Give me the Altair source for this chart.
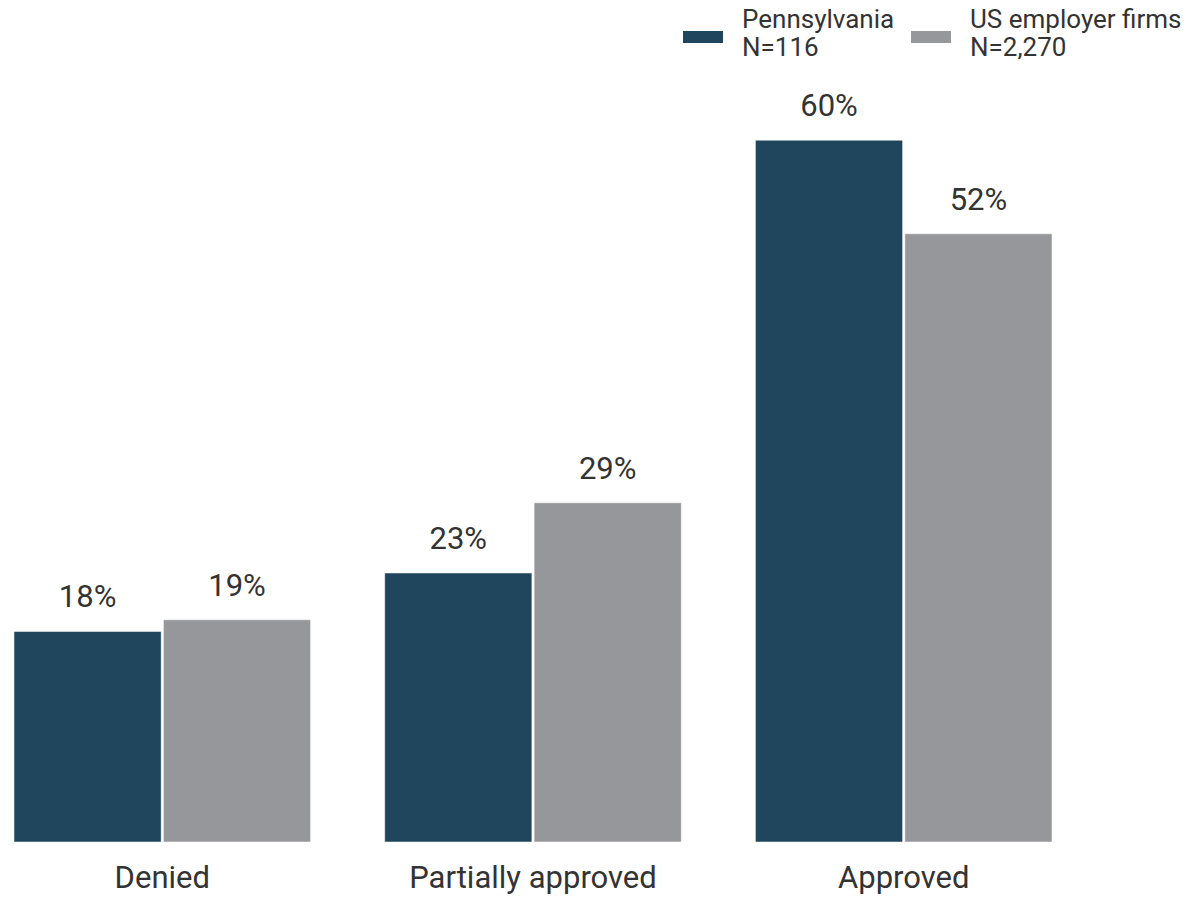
import altair as alt
import pandas as pd

categories = ["Denied", "Partially approved", "Approved"]
series = ["Pennsylvania\nN=116", "US employer firms\nN=2,270"]
pa_values = [18, 23, 60]
us_values = [19, 29, 52]

rows = []
for c, a, b in zip(categories, pa_values, us_values):
    rows.append({"cat": c, "series": series[0], "value": a})
    rows.append({"cat": c, "series": series[1], "value": b})
df = pd.DataFrame(rows)

FONT = "Roboto"
TXT = "#333333"
x = alt.X("cat:N", sort=categories, title=None,
          scale=alt.Scale(paddingInner=0.2, paddingOuter=0),
          axis=alt.Axis(labelAngle=0, labelFontSize=31, labelFont=FONT, labelColor=TXT,
                        labelPadding=21, labelLimit=500, ticks=False, domain=False, grid=False))
xoff = alt.XOffset("series:N", sort=series, scale=alt.Scale(paddingInner=0.015))
y = alt.Y("value:Q", scale=alt.Scale(domain=[0, 66], nice=False), axis=None)

bars = alt.Chart(df).mark_bar(stroke="white", strokeWidth=0.5).encode(
    x=x, xOffset=xoff, y=y,
    color=alt.Color("series:N", sort=series,
                    scale=alt.Scale(domain=series, range=["#1f465c", "#96979b"]),
                    legend=alt.Legend(title=None, orient="none", legendX=669, legendY=-70,
                                      direction="horizontal", columns=2,
                                      symbolType="M-1,0.55L1,0.55L1,1.15L-1,1.15Z",
                                      symbolSize=1600, symbolStrokeWidth=0, symbolOpacity=1,
                                      labelFontSize=26, labelFont=FONT, labelColor=TXT,
                                      labelExpr="split(datum.label, '\\n')",
                                      labelLimit=300, columnPadding=16, labelOffset=19,
                                      padding=0))
)

labels = alt.Chart(df).transform_calculate(lab="datum.value + '%'").mark_text(
    baseline="bottom", dy=-17, fontSize=31, font=FONT, color=TXT).encode(
    x=x, xOffset=xoff, y=y, text="lab:N")

chart = alt.layer(bars, labels).properties(
    width=1038, height=772,
    autosize=alt.AutoSizeParams(type="none"),
    padding={"left": 6, "top": 62, "right": 130, "bottom": 56},
).configure_view(stroke=None)

chart.save("out.html", embed_options={"renderer": "svg", "actions": False})
